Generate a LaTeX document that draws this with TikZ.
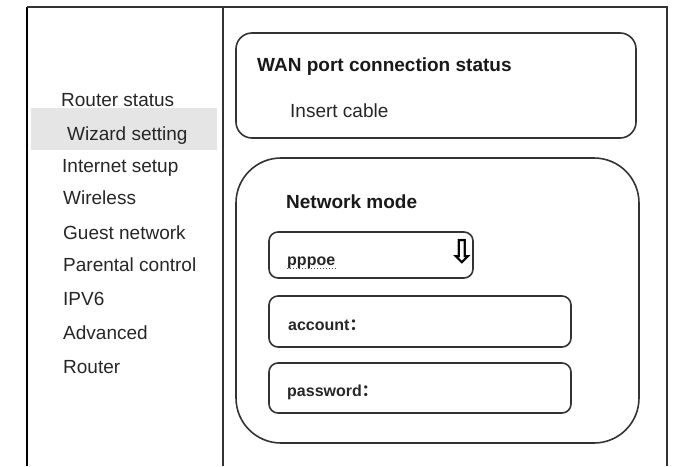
\documentclass[tikz,border=0pt]{standalone}
\usepackage{fontspec}
\setmainfont{Liberation Sans}
\newfontfamily\arrowfont{DejaVu Sans}
\newfontfamily\cjk{Noto Sans CJK SC}
\newcommand{\menusize}{\fontsize{19}{23}\selectfont}
\newcommand{\fieldsize}{\fontsize{16}{19}\selectfont}
\newcommand{\wcolon}{{\cjk ：}}

\begin{document}
\begin{tikzpicture}[x=1pt,y=-1pt,
    menu/.style={anchor=base west, inner sep=0pt, text=black!85, font=\menusize},
    head/.style={anchor=base west, inner sep=0pt, text=black!90, font=\menusize\bfseries},
    field/.style={anchor=base west, inner sep=0pt, text=black!85, font=\fieldsize\bfseries},
    panel/.style={draw=black!80, line width=1.6pt, inner sep=0pt}]
      \useasboundingbox (0,0) rectangle (680,466);
          %%  frame and divider  %%
      \coordinate (bl) at (27,466);
      \coordinate (tl) at (27,7);
      \coordinate (tr) at (667,7);
      \coordinate (br) at (667,466);
      \coordinate (dt) at (223,7);
      \coordinate (db) at (223,466);
      \node (hl) at (124,129) [fill=black!10, minimum width=186pt, minimum height=42pt, inner sep=0pt] {};
      \draw[line width=2.4pt] (bl) to (tl);
      \draw[line width=1.4pt, black!80] (tl) to (tr) to (br) (dt) to (db);

          %%  menu  %%
      \foreach \x/\y/\t [count=\i] in {61/106/Router status, 67/140/Wizard setting,
          62/172/Internet setup, 63/204/Wireless, 63/239/Guest network,
          63/271/Parental control, 63/305/IPV6, 63/339/Advanced, 63/373/Router}
      { \node (m\i) at (\x,\y) [menu] {\t};}

          %%  WAN status  %%
      \node (wan) at (436,85.5) [panel, minimum width=400pt, minimum height=105pt, rounded corners=16pt] {};
      \node (wanhead) at (257,71) [head] {WAN port connection status};
      \node (cable) at (290,117) [menu] {Insert cable};

          %%  network mode  %%
      \node (mode) at (437.5,300.5) [panel, minimum width=403pt, minimum height=285pt, rounded corners=45pt] {};
      \node (modehead) at (286,208) [head] {Network mode};
      \node (pbox) at (371,255) [panel, minimum width=204pt, minimum height=46pt, rounded corners=9pt] {};
      \node (abox) at (420,321.5) [panel, minimum width=302pt, minimum height=51pt, rounded corners=9pt] {};
      \node (wbox) at (420,388) [panel, minimum width=302pt, minimum height=50pt, rounded corners=9pt] {};
      \node (pppoe) at (287,265) [field] {pppoe};
      \draw[dotted, line width=1pt, black!70] (pppoe.south west) to (pppoe.south east);
      \node (drop) at (462,252) [inner sep=0pt, font=\arrowfont\bfseries\fontsize{33}{33}\selectfont] {⇩};
      \node (account) at (288,330) [field] {account\wcolon};
      \node (password) at (287,396) [field] {password\wcolon};
\end{tikzpicture}
\end{document}
